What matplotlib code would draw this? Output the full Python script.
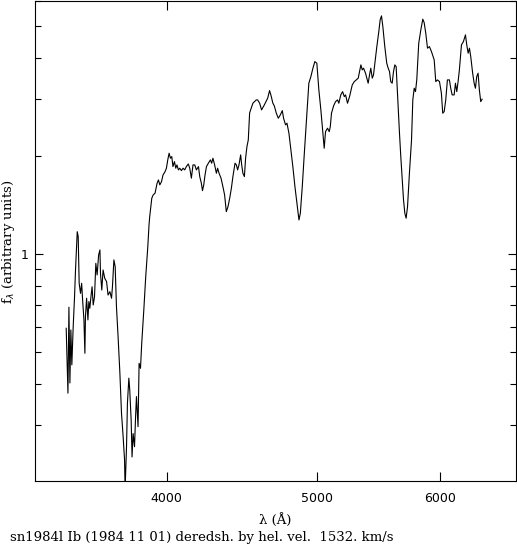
import matplotlib
matplotlib.use("Agg")
import matplotlib.pyplot as plt
from matplotlib.ticker import FixedLocator, NullFormatter, FixedFormatter, NullLocator

wavelength = [
    3445, 3454, 3459, 3464, 3469, 3474, 3481, 3488, 3493, 3502,
    3507, 3512, 3519, 3525, 3530, 3537, 3542, 3545, 3551, 3558,
    3563, 3568, 3575, 3580, 3586, 3593, 3600, 3607, 3615, 3622,
    3625, 3632, 3639, 3648, 3658, 3666, 3676, 3685, 3690, 3698,
    3705, 3712, 3721, 3731, 3740, 3749, 3757, 3760, 3768, 3773,
    3781, 3786, 3794, 3799, 3805, 3813, 3819, 3824, 3833, 3839,
    3847, 3854, 3866, 3877, 3889, 3896, 3900, 3912, 3920, 3931,
    3943, 3951, 3959, 3969, 3978, 3990, 3998, 4006, 4014, 4022,
    4030, 4037, 4046, 4054, 4061, 4070, 4078, 4088, 4098, 4108,
    4118, 4130, 4139, 4149, 4159, 4170, 4180, 4193, 4201, 4211,
    4218, 4226, 4234, 4243, 4255, 4268, 4276, 4284, 4295, 4306,
    4314, 4323, 4336, 4348, 4359, 4370, 4381, 4392, 4403, 4413,
    4427, 4436, 4444, 4453, 4464, 4471, 4479, 4489, 4497, 4506,
    4515, 4524, 4546, 4569, 4578, 4592, 4605, 4624, 4647, 4660,
    4669, 4683, 4693, 4707, 4721, 4735, 4749, 4758, 4772, 4782,
    4796, 4810, 4824, 4839, 4853, 4868, 4878, 4892, 4907, 4926,
    4940, 4955, 4970, 4984, 4999, 5014, 5029, 5044, 5054, 5064,
    5079, 5092, 5100, 5109, 5125, 5140, 5155, 5165, 5180, 5194,
    5207, 5217, 5232, 5248, 5269, 5285, 5300, 5316, 5326, 5337,
    5348, 5358, 5374, 5384, 5395, 5406, 5416, 5428, 5438, 5449,
    5465, 5481, 5492, 5503, 5514, 5530, 5546, 5558, 5569, 5579,
    5591, 5602, 5613, 5624, 5635, 5652, 5663, 5675, 5686, 5697,
    5708, 5720, 5736, 5754, 5765, 5777, 5788, 5799, 5816, 5834,
    5851, 5863, 5877, 5892, 5909, 5927, 5951, 5965, 5980, 5998,
    6015, 6027, 6040, 6054, 6069, 6087, 6099, 6112, 6130, 6142,
    6154, 6166, 6178, 6197, 6215, 6234, 6246, 6259, 6271, 6283,
    6301, 6315, 6327, 6339, 6352, 6364, 6377, 6390,
]

flux = [
    0.593, 0.375, 0.688, 0.403, 0.586, 0.458, 0.600, 0.741, 0.895, 1.173,
    1.132, 0.815, 0.759, 0.815, 0.724, 0.629, 0.497, 0.644, 0.733, 0.629,
    0.716, 0.683, 0.750, 0.795, 0.699, 0.741, 0.938, 0.864, 0.995, 1.031,
    0.874, 0.777, 0.895, 0.844, 0.824, 0.750, 0.768, 0.733, 0.795, 0.961,
    0.916, 0.691, 0.559, 0.432, 0.325, 0.276, 0.234, 0.190, 0.257, 0.349,
    0.417, 0.384, 0.310, 0.239, 0.282, 0.257, 0.318, 0.366, 0.296, 0.463,
    0.447, 0.533, 0.675, 0.854, 1.055, 1.230, 1.304, 1.485, 1.520, 1.539,
    1.651, 1.690, 1.632, 1.670, 1.751, 1.792, 1.836, 1.947, 2.041, 1.970,
    1.993, 1.857, 1.924, 1.836, 1.879, 1.814, 1.836, 1.805, 1.836, 1.814,
    1.857, 1.892, 1.836, 1.711, 1.879, 1.879, 1.814, 1.857, 1.730, 1.651,
    1.567, 1.632, 1.751, 1.857, 1.902, 1.947, 1.902, 1.970, 1.879, 1.772,
    1.836, 1.772, 1.711, 1.612, 1.520, 1.351, 1.400, 1.485, 1.594, 1.730,
    1.902, 1.879, 1.814, 1.879, 2.017, 1.879, 1.772, 1.730, 1.970, 2.138,
    2.242, 2.713, 2.905, 2.974, 2.974, 2.905, 2.771, 2.871, 3.010, 3.176,
    3.081, 2.905, 2.851, 2.707, 2.613, 2.675, 2.757, 2.613, 2.493, 2.523,
    2.351, 2.089, 1.857, 1.612, 1.434, 1.274, 1.336, 1.612, 2.041, 2.707,
    3.346, 3.506, 3.720, 3.898, 3.854, 3.192, 2.771, 2.351, 2.114, 2.377,
    2.435, 2.377, 2.463, 2.707, 2.851, 2.938, 2.974, 2.905, 3.081, 3.153,
    3.044, 3.081, 2.905, 3.044, 3.306, 3.384, 3.425, 3.467, 3.632, 3.808,
    3.676, 3.720, 3.591, 3.467, 3.346, 3.548, 3.720, 3.467, 3.548, 3.854,
    4.333, 4.818, 5.233, 5.383, 4.991, 4.333, 3.854, 3.720, 3.632, 3.384,
    3.346, 3.632, 3.808, 3.763, 3.118, 2.351, 1.993, 1.690, 1.468, 1.336,
    1.290, 1.400, 1.772, 2.242, 2.974, 3.230, 3.153, 3.425, 4.439, 4.876,
    5.259, 5.134, 4.764, 4.285, 4.333, 4.183, 3.945, 3.384, 3.425, 3.384,
    3.118, 2.707, 2.738, 2.974, 3.425, 3.425, 3.230, 3.081, 3.081, 3.346,
    3.153, 3.384, 3.676, 4.386, 4.489, 4.707, 4.386, 4.136, 4.285, 4.038,
    3.591, 3.346, 3.230, 3.506, 3.591, 3.192, 2.938, 2.989,
]

x_ticks = [4000, 5000, 6000]
x_tick_labels = ["4000", "5000", "6000"]
y_major = [1.0]
y_major_labels = ["1"]
y_minor = [0.2, 0.3, 0.4, 0.5, 0.6, 0.7, 0.8, 0.9, 2, 3, 4, 5, 6]

title_text = "sn1984l Ib (1984 11 01) deredsh. by hel. vel.  1532. km/s"

W, H = 517, 544
fig = plt.figure(figsize=(W / 100, H / 100), dpi=100)
ax = fig.add_axes([35 / W, 63 / H, 481 / W, 480.5 / H])

ax.plot(wavelength, flux, color="black", linewidth=0.8)
ax.set_xscale("log")
ax.set_yscale("log")
ax.set_xlim(3289, 6720)
ax.set_ylim(0.2017, 6.0)

ax.xaxis.set_major_locator(FixedLocator(x_ticks))
ax.xaxis.set_major_formatter(FixedFormatter(x_tick_labels))
ax.xaxis.set_minor_locator(NullLocator())
ax.xaxis.set_minor_formatter(NullFormatter())
ax.yaxis.set_major_locator(FixedLocator(y_major))
ax.yaxis.set_major_formatter(FixedFormatter(y_major_labels))
ax.yaxis.set_minor_locator(FixedLocator(y_minor))
ax.yaxis.set_minor_formatter(NullFormatter())

ax.tick_params(axis="x", which="major", direction="in", length=6.5, width=0.8,
               top=True, bottom=True, labelsize=9, pad=8)
ax.tick_params(axis="y", which="major", direction="in", length=6, width=0.8,
               left=True, right=True, labelsize=9, pad=5)
ax.tick_params(axis="y", which="minor", direction="in", length=4, width=0.8,
               left=True, right=True)
for s in ax.spines.values():
    s.set_linewidth(0.8)

ax.set_xlabel("λ (Å)", family="DejaVu Serif", fontsize=9.5, labelpad=6)

fig.text(9 / W, 1 - 242 / H, r"f$_\lambda$ (arbitrary units)", family="DejaVu Serif",
         fontsize=9.5, rotation=90, ha="center", va="center")

fig.text(10 / W, 1 - 537 / H, title_text, family="DejaVu Serif", fontsize=9.5,
         ha="left", va="center")

fig.savefig("out.png", dpi=100)
